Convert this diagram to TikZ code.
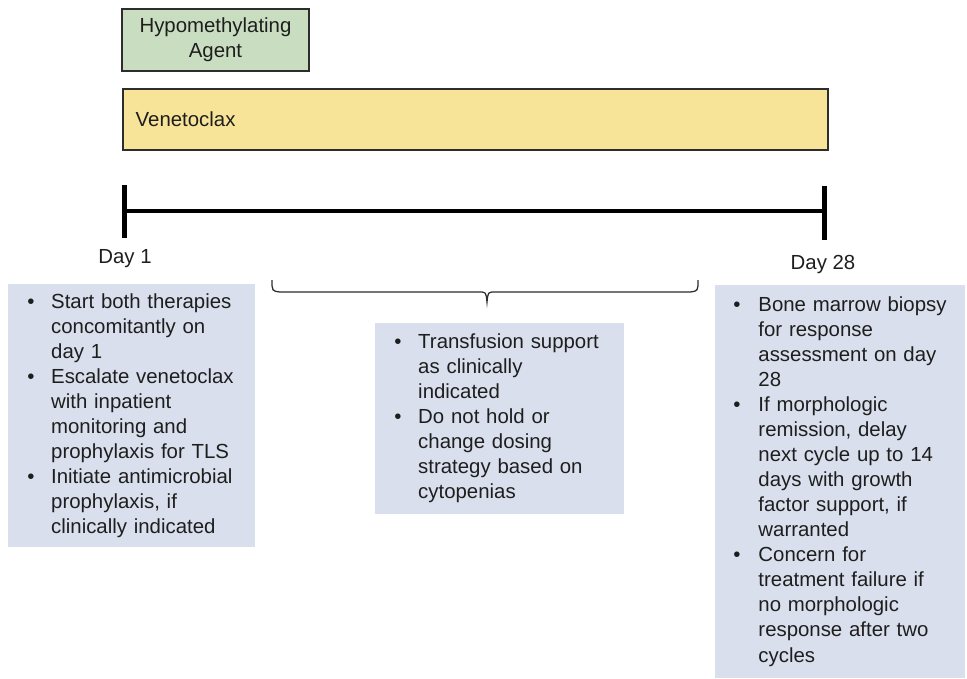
\documentclass[tikz,border=0pt]{standalone}
\usepackage{fontspec}
\setmainfont{Liberation Sans}
\usepackage{xcolor}
\usepackage{tikz}

\definecolor{hmagreen}{RGB}{201,221,193}
\definecolor{venyellow}{RGB}{248,228,152}
\definecolor{notegrey}{RGB}{217,223,236}
\definecolor{inkline}{RGB}{45,45,45}
\definecolor{inktext}{RGB}{30,30,30}

\tikzset{
  drugbox/.style={draw=inkline, line width=1.1pt, inner sep=0pt},
  notebox/.style={fill=notegrey, anchor=north west, inner ysep=0pt, align=left},
  daylabel/.style={anchor=base},
  dayline/.style={line width=3pt, line cap=butt},
  bracket/.style={line width=0.9pt, draw=inkline},
}

\begin{document}
\begin{tikzpicture}[x=0.025cm, y=-0.025cm, font=\fontsize{14.5}{17.8}\selectfont, text=inktext]
  \useasboundingbox (0,0) rectangle (967,678);
  % drugs
  \node[drugbox, fill=hmagreen, minimum width=133pt, minimum height=44.1pt, align=center]
    (hma) at (215.5,40) {Hypomethylating\\Agent};
  \node[drugbox, fill=venyellow, anchor=north west, minimum height=43.4pt,
    inner xsep=9.2pt, text width=483pt, align=left] (ven) at (122,88) {Venetoclax};
  % timeline
  \coordinate (d1) at (124.5,211);
  \coordinate (d28) at (824.5,211);
  \draw[dayline] (d1) -- (d28);
  \draw[dayline] (d1) ++(0,-26) -- ++(0,53);
  \draw[dayline] (d28) ++(0,-25) -- ++(0,54);
  \node[daylabel] (day1) at (125,263) {Day 1};
  \node[daylabel] (day28) at (823,269) {Day 28};
  % brace over the middle of the cycle
  \coordinate (brl) at (272,280);
  \coordinate (brr) at (698,280);
  \coordinate (brtip) at (487,302);
  \draw[bracket] (brl) .. controls (272,291) .. (280,292) -- (479,292)
    .. controls (486,292) .. (brtip) .. controls (488,292) .. (495,292)
    -- (690,292) .. controls (698,291) .. (brr);
  % notes
  \node[notebox, minimum width=175.7pt, minimum height=187.1pt, inner xsep=13.5pt, text width=148.7pt]
    (start) at (8,284) {\noindent\begin{tabular}{@{}p{17pt}@{}l@{}}
    \textbullet & Start both therapies\\
     & concomitantly on\\
     & day 1\\
    \textbullet & Escalate venetoclax\\
     & with inpatient\\
     & monitoring and\\
     & prophylaxis for TLS\\
    \textbullet & Initiate antimicrobial\\
     & prophylaxis, if\\
     & clinically indicated
    \end{tabular}};
  \node[notebox, minimum width=177.1pt, minimum height=135.9pt, inner xsep=13.5pt, text width=150pt]
    (mid) at (375,323) {\noindent\begin{tabular}{@{}p{17pt}@{}l@{}}
    \textbullet & Transfusion support\\
     & as clinically\\
     & indicated\\
    \textbullet & Do not hold or\\
     & change dosing\\
     & strategy based on\\
     & cytopenias
    \end{tabular}};
  \node[notebox, minimum width=177.8pt, minimum height=279.5pt, inner xsep=12.8pt, text width=152pt]
    (end) at (715,285) {\noindent\begin{tabular}{@{}p{17.8pt}@{}l@{}}
    \textbullet & Bone marrow biopsy\\
     & for response\\
     & assessment on day\\
     & 28\\
    \textbullet & If morphologic\\
     & remission, delay\\
     & next cycle up to 14\\
     & days with growth\\
     & factor support, if\\
     & warranted\\
    \textbullet & Concern for\\
     & treatment failure if\\
     & no morphologic\\
     & response after two\\
     & cycles
    \end{tabular}};
\end{tikzpicture}
\end{document}
